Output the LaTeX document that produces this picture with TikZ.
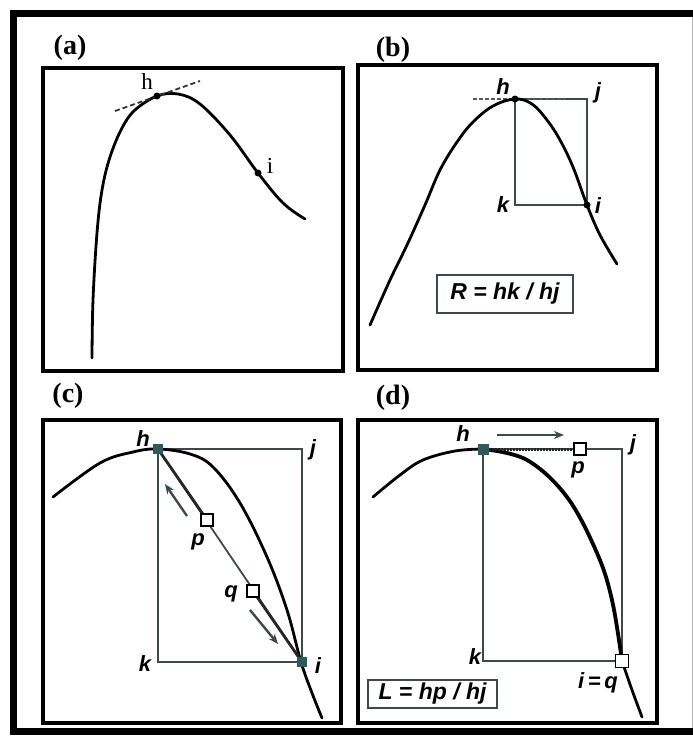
\documentclass[tikz,border=0pt]{standalone}
\usepackage{fontspec}
\setmainfont{Liberation Serif}
\setsansfont{Liberation Sans}
\usetikzlibrary{arrows.meta}
\definecolor{rectcol}{HTML}{3C4A4C}
\definecolor{sqfill}{HTML}{2E5A5C}
\begin{document}
\begin{tikzpicture}[x=1pt,y=-1pt,
  panel/.style={draw=black,line width=3.2pt},
  curve/.style={line width=2.8pt,line cap=round,line join=round},
  plab/.style={font=\fontsize{28}{30}\selectfont\bfseries,inner sep=0pt},
  lab/.style={font=\sffamily\itshape\bfseries\fontsize{22}{24}\selectfont,inner sep=0pt},
  alab/.style={font=\fontsize{23}{25}\selectfont,inner sep=0pt},
  rect/.style={draw=rectcol,line width=1.5pt},
  fsq/.style={fill=sqfill,minimum size=10pt,inner sep=0pt},
  osq/.style={draw=black,fill=white,line width=1.5pt,minimum size=12pt,inner sep=0pt},
  dot/.style={circle,fill=black,minimum size=7pt,inner sep=0pt},
  formula/.style={draw=rectcol,line width=1.5pt,font=\sffamily\itshape\bfseries\fontsize{23}{25}\selectfont,inner sep=0pt},
  arr/.style={-{Stealth[length=10pt,width=8pt]},line width=2.4pt,draw=rectcol}
]
\useasboundingbox (0,0) rectangle (693,737);
\fill[white] (0,0) rectangle (693,737);
% outer frame
\draw[line width=7pt] (697,13.5) -- (13.5,13.5) -- (13.5,731.5) -- (697,731.5);
\draw[gray!60,line width=1pt] (692,17) -- (692,728);

% ---------------- panel (a)
\node[plab] (la) at (70,48) {(a)};
\draw[panel] (43,68) rectangle (343,371);
\draw[curve] plot[smooth,tension=0.6] coordinates {(92,358) (93,300) (97,233) (102,190) (110,157) (122,128) (135,110) (157,96) (178,94) (200,104) (230,135) (258,173) (283,203) (305,219)};
\coordinate (ta1) at (115,111);
\coordinate (ta2) at (200,81);
\draw[dashed,dash pattern=on 5pt off 3pt,line width=1.8pt,draw=black!80] (ta1) -- (ta2);
\node[dot] (ah) at (157,96) {};
\node[dot] (ai) at (258,173) {};
\node[alab] (ahl) at (147,82) {h};
\node[alab] (ail) at (270,166) {i};

% ---------------- panel (b)
\node[plab] (lb) at (393,50) {(b)};
\draw[panel] (358,65) rectangle (657,370);
\coordinate (bh) at (515,99);
\coordinate (bj) at (587,99);
\coordinate (bk) at (515,205);
\coordinate (bi) at (587,205);
\draw[rect] (bh) -- (bj) -- (bi) -- (bk) -- cycle;
\coordinate (bd1) at (473,99);
\coordinate (bd2) at (565,99);
\draw[dashed,dash pattern=on 4pt off 2pt,line width=2pt,draw=black!65] (bd1) -- (bd2);
\draw[curve] plot[smooth,tension=0.6] coordinates {(370,325) (390,280) (407,245) (425,205) (440,170) (457,142) (473,122) (493,106) (515,99) (532,104) (547,120) (560,140) (573,167) (587,205) (600,235) (617,264)};
\node[dot] (bhd) at (bh) {};
\node[dot] (bid) at (bi) {};
\node[lab] (bhl) at (503,87) {h};
\node[lab] (bjl) at (598,93) {j};
\node[lab] (bkl) at (503,205) {k};
\node[lab] (bil) at (598,206) {i};
\node[formula,minimum width=136pt,minimum height=38pt] (R) at (505,294) {R = hk / hj};

% ---------------- panel (c)
\node[plab] (lc) at (68,396) {(c)};
\draw[panel] (43,420) rectangle (341,723);
\coordinate (ch) at (158,449);
\coordinate (cj) at (302,449);
\coordinate (ck) at (158,662);
\coordinate (ci) at (302,662);
\draw[rect] (ch) -- (cj) -- (ci) -- (ck) -- cycle;
\draw[curve] plot[smooth,tension=0.6] coordinates {(53,497) (100,463) (133,452) (158,449) (190,454) (213,467) (240,503) (267,557) (287,610) (301,662) (312,693) (322,718)};
\draw[line width=1.8pt,draw=rectcol] (ch) -- (ci);
\coordinate (cp) at (207,520);
\coordinate (cq) at (253,591);
\draw[line width=2.8pt,draw=black!85] (ch) -- (cp);
\draw[line width=2.8pt,draw=black!85] (cq) -- (ci);
\node[osq] (cps) at (cp) {};
\node[osq] (cqs) at (cq) {};
\node[fsq] (chs) at (ch) {};
\node[fsq] (cis) at (ci) {};
\coordinate (ca1s) at (187,516);
\coordinate (ca1e) at (165,484);
\coordinate (ca2s) at (250,610);
\coordinate (ca2e) at (278,644);
\draw[arr] (ca1s) -- (ca1e);
\draw[arr] (ca2s) -- (ca2e);
\node[lab] (chl) at (143,439) {h};
\node[lab] (cjl) at (313,450) {j};
\node[lab] (ckl) at (145,664) {k};
\node[lab] (cil) at (318,666) {i};
\node[lab] (cpl) at (198,542) {p};
\node[lab] (cql) at (231,594) {q};

% ---------------- panel (d)
\node[plab] (ld) at (393,398) {(d)};
\draw[panel] (358,420) rectangle (657,723);
\coordinate (dh) at (483,449);
\coordinate (dj) at (622,449);
\coordinate (dk) at (483,661);
\coordinate (di) at (622,661);
\coordinate (dp) at (580,449);
\draw[rect] (dh) -- (dj) -- (di) -- (dk) -- cycle;
\draw[curve] plot[smooth,tension=0.6] coordinates {(373,497) (400,475) (423,460) (455,451) (483,449)};
\draw[curve,line width=3.8pt] plot[smooth,tension=0.6] coordinates {(483,449) (527,460) (567,497) (597,553) (612,600) (622,661)};
\draw[curve] plot[smooth,tension=0.6] coordinates {(622,661) (632,690) (642,717)};
\draw[line width=3pt,dash pattern=on 2pt off 1pt,draw=black!85] (dh) -- (dp);
\node[fsq,minimum size=11pt] (dhs) at (dh) {};
\node[osq] (dps) at (dp) {};
\node[osq,minimum size=13pt] (dis) at (di) {};
\coordinate (da1) at (497,435);
\coordinate (da2) at (564,435);
\draw[arr] (da1) -- (da2);
\node[lab] (dhl) at (463,434) {h};
\node[lab] (djl) at (633,445) {j};
\node[lab] (dpl) at (578,470) {p};
\node[lab] (dkl) at (475,657) {k};
\node[lab] (diql) at (598,683) {i\,=\,q};
\node[formula,minimum width=129pt,minimum height=28pt] (L) at (432.5,694) {L = hp / hj};
\end{tikzpicture}
\end{document}
